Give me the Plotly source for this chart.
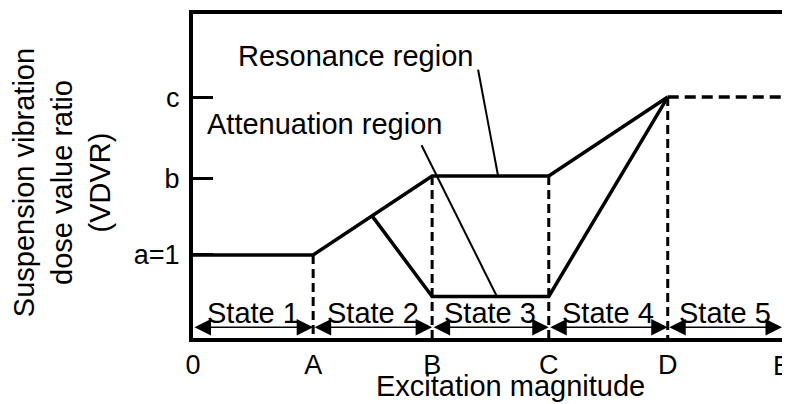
import plotly.graph_objects as go

# ---- data ----
x_keys = [0, 1.02, 2.03, 3.02, 4.03, 5.0]
x_labels = ["0", "A", "B", "C", "D", "E"]
y_tick_vals = [1.0, 1.92, 2.9]
y_tick_labels = ["a=1", "b", "c"]

# resonance path (0 -> A flat, A -> B rising, B -> C flat, C -> D rising)
res_x = [0, 1.02, 2.03, 3.02, 4.03]
res_y = [1.0, 1.0, 1.95, 1.95, 2.9]
# attenuation path (branch on A-B, down to B, flat to C, up to D)
att_x = [1.52, 2.03, 3.02, 4.03]
att_y = [1.47, 0.5, 0.5, 2.9]
# saturation (dashed) D -> E
sat_x = [4.03, 5.0]
sat_y = [2.9, 2.9]
# vertical dashed boundaries (x, top y)
bound_x = [1.02, 2.03, 3.02, 4.03]
bound_top = [1.0, 1.95, 1.95, 2.9]

state_labels = ["State 1", "State 2", "State 3", "State 4", "State 5"]
arrow_y = 0.13
state_label_y = 0.30

# pointer lines for region labels
res_ptr_x = [2.42, 2.59]
res_ptr_y = [3.23, 1.95]
att_ptr_x = [1.94, 2.58]
att_ptr_y = [2.32, 0.5]
res_label_pos = (1.38, 3.40)
att_label_pos = (1.12, 2.57)

FONT = "Liberation Sans, Arial, sans-serif"
FS = 29
TFS = 27

fig = go.Figure()

fig.add_trace(go.Scatter(x=res_x, y=res_y, mode="lines",
                         line=dict(color="black", width=3.5), hoverinfo="skip"))
fig.add_trace(go.Scatter(x=att_x, y=att_y, mode="lines",
                         line=dict(color="black", width=3.5), hoverinfo="skip"))
fig.add_trace(go.Scatter(x=sat_x, y=sat_y, mode="lines",
                         line=dict(color="black", width=3.5, dash="11px,6px"), hoverinfo="skip"))
for bx, bt in zip(bound_x, bound_top):
    fig.add_trace(go.Scatter(x=[bx, bx], y=[bt, 0], mode="lines",
                             line=dict(color="black", width=3, dash="9px,5px"), hoverinfo="skip"))
fig.add_trace(go.Scatter(x=res_ptr_x, y=res_ptr_y, mode="lines",
                         line=dict(color="black", width=2), hoverinfo="skip"))
fig.add_trace(go.Scatter(x=att_ptr_x, y=att_ptr_y, mode="lines",
                         line=dict(color="black", width=2), hoverinfo="skip"))

# state arrows and labels
for i, lab in enumerate(state_labels):
    x0, x1 = x_keys[i], x_keys[i + 1]
    fig.add_annotation(x=x1, y=arrow_y, ax=x0, ay=arrow_y, xref="x", yref="y",
                       axref="x", ayref="y", text="", showarrow=True,
                       arrowhead=2, startarrowhead=2, arrowside="end+start",
                       arrowwidth=1.5, arrowsize=2.2, startarrowsize=2.2,
                       arrowcolor="black", standoff=0, startstandoff=0)
    fig.add_annotation(x=(x0 + x1) / 2, y=state_label_y, xref="x", yref="y",
                       text=lab, showarrow=False,
                       font=dict(family=FONT, size=FS, color="black"))

fig.add_annotation(x=res_label_pos[0], y=res_label_pos[1], xref="x", yref="y",
                   text="Resonance region", showarrow=False,
                   font=dict(family=FONT, size=FS, color="black"))
fig.add_annotation(x=att_label_pos[0], y=att_label_pos[1], xref="x", yref="y",
                   text="Attenuation region", showarrow=False,
                   font=dict(family=FONT, size=FS, color="black"))

# last x tick label (drawn as annotation so it is clipped at the page edge, not hidden)
fig.add_annotation(x=x_keys[-1], y=-0.085, xref="x", yref="paper",
                   text=x_labels[-1], showarrow=False, xanchor="center", yanchor="middle",
                   font=dict(family=FONT, size=TFS, color="black"))

# axis titles
fig.add_annotation(x=-0.223, y=0.48, xref="paper", yref="paper",
                   text="Suspension vibration<br>dose value ratio<br>(VDVR)",
                   textangle=-90, showarrow=False, xanchor="center", yanchor="middle",
                   font=dict(family=FONT, size=FS, color="black"))
fig.add_annotation(x=0.539, y=-0.148, xref="paper", yref="paper",
                   text="Excitation magnitude", showarrow=False,
                   xanchor="center", yanchor="middle",
                   font=dict(family=FONT, size=FS, color="black"))

# page body has an 8px margin, so the figure is shrunk by 8px to fit the window
fig.update_layout(
    width=782, height=396,
    margin=dict(l=185, r=8, t=2, b=66),
    plot_bgcolor="white", paper_bgcolor="white",
    showlegend=False,
    font=dict(family=FONT, size=TFS, color="black"),
)
fig.update_xaxes(range=[0, 5], tickvals=x_keys[:-1], ticktext=x_labels[:-1], ticks="",
                 showgrid=False, zeroline=False, showline=True, linecolor="black",
                 linewidth=4, mirror=True, tickfont=dict(family=FONT, size=TFS, color="black"))
fig.update_yaxes(range=[0, 3.9], tickvals=y_tick_vals, ticktext=y_tick_labels,
                 ticks="inside", ticklen=20, tickwidth=3, tickcolor="black",
                 ticklabelstandoff=4,
                 showgrid=False, zeroline=False, showline=True, linecolor="black",
                 linewidth=4, mirror=True, tickfont=dict(family=FONT, size=TFS, color="black"))

fig.write_html("out.html")
